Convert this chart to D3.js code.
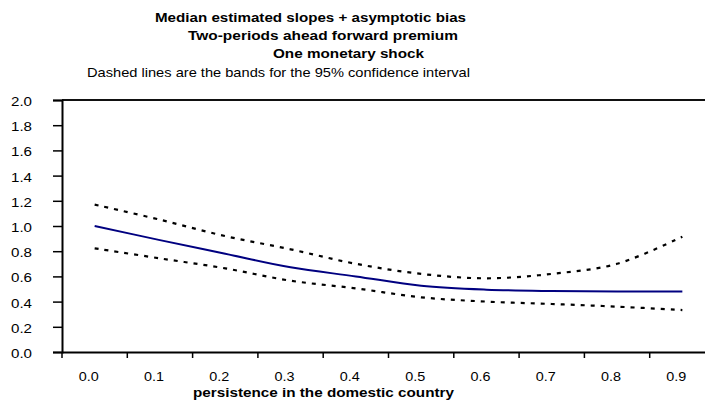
<!DOCTYPE html>
<html>
<head>
<meta charset="utf-8">
<script src="https://cdn.jsdelivr.net/npm/d3@7"></script>
<style>
  html, body { margin: 0; padding: 0; background: #fff; }
  svg { display: block; font-family: "Liberation Sans", Arial, sans-serif; }
</style>
</head>
<body>
<script>
const categories = ["0.0","0.1","0.2","0.3","0.4","0.5","0.6","0.7","0.8","0.9"];
const median = [1.00, 0.888, 0.78, 0.672, 0.60, 0.526, 0.495, 0.484, 0.48, 0.48];
const upper  = [1.17, 1.05, 0.92, 0.815, 0.70, 0.62, 0.585, 0.62, 0.70, 0.915];
const lower  = [0.823, 0.743, 0.664, 0.566, 0.505, 0.434, 0.40, 0.381, 0.36, 0.333];
const yTicks = [0, 0.2, 0.4, 0.6, 0.8, 1.0, 1.2, 1.4, 1.6, 1.8, 2.0];
const titleLines = [
  "Median estimated slopes + asymptotic bias",
  "Two-periods ahead forward premium",
  "One monetary shock"
];
const subtitle = "Dashed lines are the bands for the 95% confidence interval";
const xTitle = "persistence in the domestic country";

const W = 705, H = 407;
const pL = 62, pT = 100, pB = 352, pR = 715;

const svg = d3.select("body").append("svg").attr("width", W).attr("height", H);

const x = d3.scaleBand().domain(categories).range([pL, pR]);
const y = d3.scaleLinear().domain([0, 2]).range([pB, pT]);

// titles
const tl = [
  {t: titleLines[0], x0: 155, x1: 466, yb: 22, w: "bold"},
  {t: titleLines[1], x0: 188, x1: 458, yb: 40, w: "bold"},
  {t: titleLines[2], x0: 273, x1: 424, yb: 58, w: "bold"},
  {t: subtitle,      x0: 87,  x1: 470, yb: 77, w: "normal"}
];
svg.selectAll("text.title").data(tl).enter().append("text")
  .attr("class", "title")
  .attr("x", d => d.x0).attr("y", d => d.yb)
  .attr("font-size", 13.5).attr("font-weight", d => d.w)
  .attr("textLength", d => d.x1 - d.x0).attr("lengthAdjust", "spacingAndGlyphs")
  .text(d => d.t);

// top border
svg.append("line").attr("x1", pL).attr("x2", W).attr("y1", pT).attr("y2", pT)
  .attr("stroke", "#111").attr("stroke-width", 2);

// y axis
const yAxis = d3.axisLeft(y).tickValues(yTicks).tickFormat(d3.format(".1f")).tickSize(9).tickPadding(0);
const gy = svg.append("g").attr("transform", `translate(${pL},0)`).call(yAxis);
gy.select(".domain").attr("stroke", "#000").attr("stroke-width", 2);
gy.selectAll(".tick line").attr("stroke", "#000").attr("stroke-width", 1.5);
gy.selectAll(".tick text").attr("x", -30).attr("dy", "0.4em")
  .attr("font-size", 13.5).attr("fill", "#000")
  .attr("textLength", 21).attr("lengthAdjust", "spacingAndGlyphs")
  .attr("font-family", "Liberation Sans, Arial, sans-serif");

// x axis
const xAxis = d3.axisBottom(x).tickSize(0).tickPadding(0);
const gx = svg.append("g").attr("transform", `translate(0,${pB})`).call(xAxis);
gx.select(".domain").attr("stroke", "#000").attr("stroke-width", 2);
gx.selectAll(".tick text").attr("y", 29).attr("dy", 0).attr("dx", -6)
  .attr("font-size", 13).attr("fill", "#000")
  .attr("textLength", 20).attr("lengthAdjust", "spacingAndGlyphs")
  .attr("font-family", "Liberation Sans, Arial, sans-serif");
// boundary ticks between categories
const bounds = categories.map(c => x(c)).concat([x(categories[categories.length - 1]) + x.bandwidth()]);
svg.append("g").selectAll("line").data(bounds).enter().append("line")
  .attr("x1", d => d).attr("x2", d => d)
  .attr("y1", pB).attr("y2", pB + 6)
  .attr("stroke", "#000").attr("stroke-width", 1.5);

svg.append("text").attr("x", 193).attr("y", 397)
  .attr("font-size", 13).attr("font-weight", "bold")
  .attr("textLength", 261).attr("lengthAdjust", "spacingAndGlyphs")
  .text(xTitle);

// lines
const cx = i => x(categories[i]) + x.bandwidth() / 2;
const line = d3.line().x((d, i) => cx(i)).y(d => y(d)).curve(d3.curveCatmullRom.alpha(0.5));

svg.append("path").datum(upper).attr("d", line)
  .attr("fill", "none").attr("stroke", "#000").attr("stroke-width", 2.2).attr("stroke-dasharray", "4,6");
svg.append("path").datum(lower).attr("d", line)
  .attr("fill", "none").attr("stroke", "#000").attr("stroke-width", 2.2).attr("stroke-dasharray", "4,6");
svg.append("path").datum(median).attr("d", line)
  .attr("fill", "none").attr("stroke", "#000080").attr("stroke-width", 2);
</script>
</body>
</html>
